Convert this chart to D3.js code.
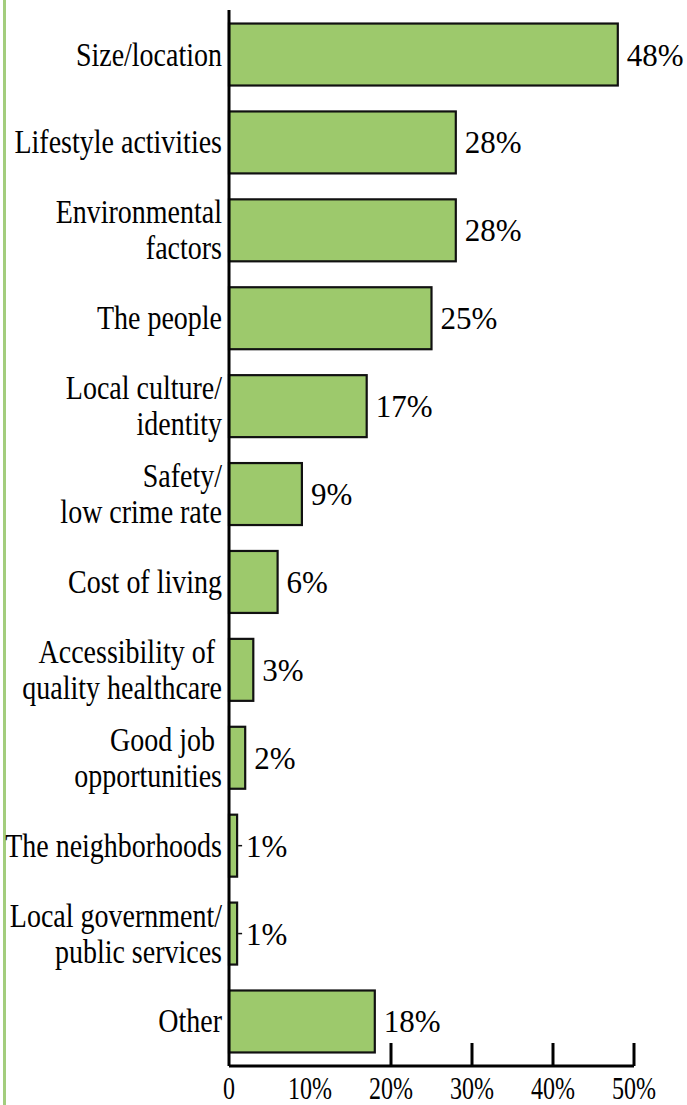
<!DOCTYPE html>
<html><head><meta charset="utf-8">
<script src="https://cdn.jsdelivr.net/npm/d3@7"></script>
<style>
body{margin:0;background:#fff;overflow:hidden}
</style>
</head><body>
<script>
const categories = [
  "Size/location",
  "Lifestyle activities",
  "Environmental\nfactors",
  "The people",
  "Local culture/\nidentity",
  "Safety/\nlow crime rate",
  "Cost of living",
  "Accessibility of \nquality healthcare",
  "Good job \nopportunities",
  "The neighborhoods",
  "Local government/\npublic services",
  "Other"
];
const values = [48, 28, 28, 25, 17, 9, 6, 3, 2, 1, 1, 18];
const valueLabels = ["48%","28%","28%","25%","17%","9%","6%","3%","2%","1%","1%","18%"];
const tickValues = [0, 10, 20, 30, 40, 50];
const tickLabels = ["0", "10%", "20%", "30%", "40%", "50%"];
const tickMarkValues = [20, 30, 40, 50];

const FONT = "'Liberation Serif', 'Times New Roman', Tinos, 'DejaVu Serif', serif";
const W = 687, H = 1105;
const svg = d3.select("body").append("svg").attr("width", W).attr("height", H)
  .attr("font-family", FONT);

// left green border line
svg.append("rect").attr("x", 3).attr("y", 0).attr("width", 3).attr("height", H).attr("fill", "#a3cd7d");

const x = d3.scaleLinear().domain([0, 50]).range([229, 634]);
const y = d3.scaleBand().domain(categories).range([10, 1066]).paddingInner(0.295).paddingOuter(0.154);
const axisY = 1066;

// bars
svg.append("g").selectAll("rect").data(categories).join("rect")
  .attr("x", x(0))
  .attr("y", d => y(d))
  .attr("width", (d, i) => x(values[i]) - x(0))
  .attr("height", y.bandwidth())
  .attr("fill", "#9dc96c")
  .attr("stroke", "#111")
  .attr("stroke-width", 2.2);

// leader ticks for tiny bars
const tiny = categories.map((c, i) => ({c, v: values[i]})).filter(d => d.v <= 1);
svg.append("g").selectAll("line").data(tiny).join("line")
  .attr("x1", d => x(d.v) + 1)
  .attr("x2", d => x(d.v) + 5)
  .attr("y1", d => y(d.c) + y.bandwidth() / 2)
  .attr("y2", d => y(d.c) + y.bandwidth() / 2)
  .attr("stroke", "#111").attr("stroke-width", 1.5);

// y axis line
svg.append("line").attr("x1", x(0)).attr("x2", x(0)).attr("y1", 10).attr("y2", axisY)
  .attr("stroke", "#000").attr("stroke-width", 3);

// x axis line
svg.append("line").attr("x1", x(0)).attr("x2", x(50)).attr("y1", axisY).attr("y2", axisY)
  .attr("stroke", "#000").attr("stroke-width", 3);

// tick marks
svg.append("g").selectAll("line").data(tickMarkValues).join("line")
  .attr("x1", d => x(d)).attr("x2", d => x(d))
  .attr("y1", axisY - 23).attr("y2", axisY)
  .attr("stroke", "#000").attr("stroke-width", 3);

// tick labels
svg.append("g").selectAll("text").data(tickValues).join("text")
  .attr("transform", d => `translate(${x(d)},1099) scale(1,1.28)`)
  .attr("text-anchor", "middle")
  .attr("font-size", 24)
  .attr("fill", "#000")
  .text((d, i) => tickLabels[i]);

// value labels
svg.append("g").selectAll("text").data(categories).join("text")
  .attr("x", (d, i) => x(values[i]) + 9)
  .attr("y", d => y(d) + y.bandwidth() / 2 + 11)
  .attr("font-size", 31)
  .attr("fill", "#000")
  .text((d, i) => valueLabels[i]);

// category labels
const catG = svg.append("g");
categories.forEach(c => {
  const lines = c.split("\n");
  const cy = y(c) + y.bandwidth() / 2;
  lines.forEach((ln, j) => {
    const base = cy + 11 - (lines.length - 1) * 18 + j * 36;
    catG.append("text")
      .attr("transform", `translate(222,${base}) scale(1,1.18)`)
      .attr("text-anchor", "end")
      .attr("font-size", 28)
      .attr("fill", "#000")
      .style("white-space", "pre")
      .text(ln);
  });
});
</script>
</body></html>
